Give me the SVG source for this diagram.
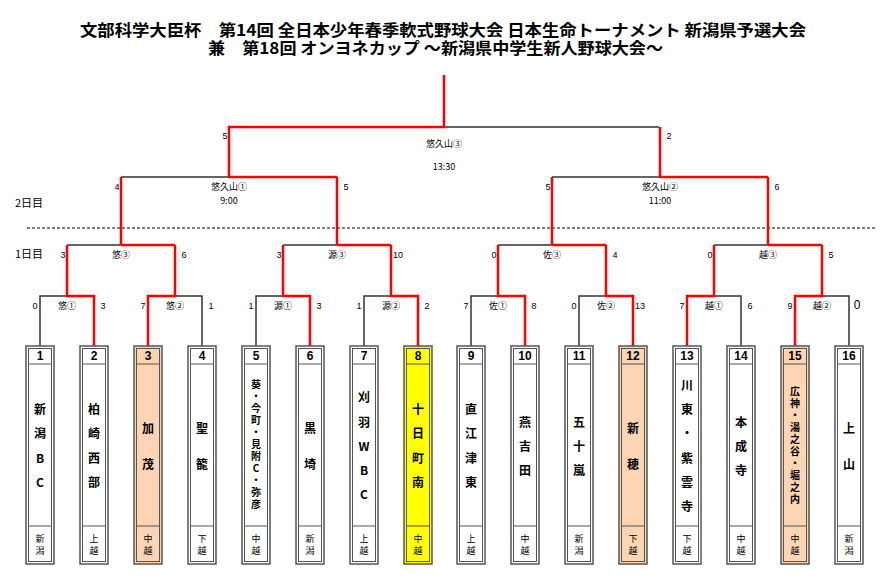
<svg xmlns="http://www.w3.org/2000/svg" width="886" height="588" viewBox="0 0 886 588">
<style>
text{font-family:"Liberation Sans","Noto Sans CJK JP",sans-serif;fill:#000}
.t{font-size:16px;font-weight:bold;font-family:"Noto Sans CJK JP",sans-serif}
.s{font-size:9px;text-anchor:middle}
.l{font-size:9px;text-anchor:middle;font-family:"Noto Sans CJK JP",sans-serif}
.d{font-size:11px;font-family:"Noto Sans CJK JP",sans-serif}
.n{font-size:12px;font-weight:bold;text-anchor:middle}
.c{font-size:12px;font-weight:bold;text-anchor:middle;dominant-baseline:central;font-family:"Noto Sans CJK JP",sans-serif}
.k{font-size:10px;font-weight:bold;text-anchor:middle;dominant-baseline:central;font-family:"Noto Sans CJK JP",sans-serif}
.r{font-size:9px;text-anchor:middle;dominant-baseline:central;font-family:"Noto Sans CJK JP",sans-serif}
.b{fill:none;stroke:#333;stroke-width:1.5}
.w{fill:none;stroke:#f00;stroke-width:2.5}
.o{stroke:#555;stroke-width:1.5}
.i{fill:none;stroke:#555;stroke-width:1}
</style>
<text class="t" x="80" y="36" textLength="726" lengthAdjust="spacingAndGlyphs">文部科学大臣杯　第14回 全日本少年春季軟式野球大会 日本生命トーナメント 新潟県予選大会</text>
<text class="t" x="208" y="54" textLength="455" lengthAdjust="spacingAndGlyphs">兼　第18回 オンヨネカップ ～新潟県中学生新人野球大会～</text>
<text class="d" x="15" y="207">2日目</text>
<text class="d" x="15" y="258">1日目</text>
<line x1="27" y1="228" x2="876" y2="228" stroke="#000" stroke-dasharray="3,2"/>
<g id="connectors">
<path class="b" d="M40,346V296H94 M202,346V296H148 M256,346V296H310 M364,346V296H418 M471,346V296H525 M579,346V296H633 M741,346V296H687 M849,346V296H795"/>
<path class="b" d="M67,245H121 M283,245H337 M498,245H552 M714,245H768 M121,177H229 M552,177H660 M444,127H659"/>
<path class="w" d="M94,346V296H67V245 M148,346V296H175V245 M310,346V296H283V245 M418,346V296H391V245 M525,346V296H498V245 M633,346V296H606V245 M687,346V296H714V245 M795,346V296H822V245"/>
<path class="w" d="M121,245H175 M121,245V177 M337,245H391 M337,245V177 M552,245H606 M552,245V177 M768,245H822 M768,245V177"/>
<path class="w" d="M337,177H229V127H444V75 M768,177H660V127"/>
</g>
<g id="labels">
<text class="s" x="35" y="309">0</text><text class="l" x="67" y="309">悠①</text><text class="s" x="103" y="309">3</text>
<text class="s" x="143" y="309">7</text><text class="l" x="175" y="309">悠②</text><text class="s" x="211" y="309">1</text>
<text class="s" x="251" y="309">1</text><text class="l" x="283" y="309">源①</text><text class="s" x="319" y="309">3</text>
<text class="s" x="359" y="309">1</text><text class="l" x="391" y="309">源②</text><text class="s" x="427" y="309">2</text>
<text class="s" x="466" y="309">7</text><text class="l" x="498" y="309">佐①</text><text class="s" x="534" y="309">8</text>
<text class="s" x="574" y="309">0</text><text class="l" x="606" y="309">佐②</text><text class="s" x="640" y="309">13</text>
<text class="s" x="682" y="309">7</text><text class="l" x="714" y="309">越①</text><text class="s" x="750" y="309">6</text>
<text class="s" x="790" y="309">9</text><text class="l" x="822" y="309">越②</text><text class="s" x="857" y="309" style="font-size:12px">0</text>
<text class="s" x="63" y="258">3</text><text class="l" x="121" y="258">悠③</text><text class="s" x="184" y="258">6</text>
<text class="s" x="279" y="258">3</text><text class="l" x="337" y="258">源③</text><text class="s" x="398" y="258">10</text>
<text class="s" x="494" y="258">0</text><text class="l" x="552" y="258">佐③</text><text class="s" x="615" y="258">4</text>
<text class="s" x="710" y="258">0</text><text class="l" x="768" y="258">越③</text><text class="s" x="831" y="258">5</text>
<text class="s" x="117" y="190">4</text><text class="l" x="229" y="190">悠久山①</text><text class="s" x="346" y="190">5</text>
<text class="l" x="229" y="204">9:00</text>
<text class="s" x="548" y="190">5</text><text class="l" x="660" y="190">悠久山②</text><text class="s" x="777" y="190">6</text>
<text class="l" x="660" y="204">11:00</text>
<text class="s" x="225" y="139">5</text><text class="l" x="444" y="147">悠久山③</text><text class="s" x="669" y="139">2</text>
<text class="l" x="444" y="170">13:30</text>
</g>
<defs>
<g id="frame">
<rect x="-14" y="346" width="28" height="218" class="o"/>
<rect x="-11.5" y="348.5" width="23" height="213" class="i"/>
<line x1="-11.5" y1="364" x2="11.5" y2="364" class="i"/>
<line x1="-11.5" y1="526" x2="11.5" y2="526" class="i"/>
</g>
</defs>
<g id="t1" transform="translate(40,0)"><use href="#frame" fill="#fff"/><text class="n" x="0" y="360">1</text><text class="c" x="0" y="408">新</text><text class="c" x="0" y="432">潟</text><text class="c" x="0" y="457">B</text><text class="c" x="0" y="481">C</text><text class="r" x="0" y="538">新</text><text class="r" x="0" y="550">潟</text></g>
<g id="t2" transform="translate(94,0)"><use href="#frame" fill="#fff"/><text class="n" x="0" y="360">2</text><text class="c" x="0" y="408">柏</text><text class="c" x="0" y="432">崎</text><text class="c" x="0" y="457">西</text><text class="c" x="0" y="481">部</text><text class="r" x="0" y="538">上</text><text class="r" x="0" y="550">越</text></g>
<g id="t3" transform="translate(148,0)"><use href="#frame" fill="#fcd5b4"/><text class="n" x="0" y="360">3</text><text class="c" x="0" y="427">加</text><text class="c" x="0" y="463">茂</text><text class="r" x="0" y="538">中</text><text class="r" x="0" y="550">越</text></g>
<g id="t4" transform="translate(202,0)"><use href="#frame" fill="#fff"/><text class="n" x="0" y="360">4</text><text class="c" x="0" y="427">聖</text><text class="c" x="0" y="463">籠</text><text class="r" x="0" y="538">下</text><text class="r" x="0" y="550">越</text></g>
<g id="t5" transform="translate(256,0)"><use href="#frame" fill="#fff"/><text class="n" x="0" y="360">5</text><text class="k" x="0" y="383">葵</text><text class="k" x="0" y="395">・</text><text class="k" x="0" y="407">今</text><text class="k" x="0" y="419">町</text><text class="k" x="0" y="431">・</text><text class="k" x="0" y="443">見</text><text class="k" x="0" y="455">附</text><text class="k" x="0" y="467">C</text><text class="k" x="0" y="479">・</text><text class="k" x="0" y="491">弥</text><text class="k" x="0" y="503">彦</text><text class="r" x="0" y="538">中</text><text class="r" x="0" y="550">越</text></g>
<g id="t6" transform="translate(310,0)"><use href="#frame" fill="#fff"/><text class="n" x="0" y="360">6</text><text class="c" x="0" y="427">黒</text><text class="c" x="0" y="463">埼</text><text class="r" x="0" y="538">新</text><text class="r" x="0" y="550">潟</text></g>
<g id="t7" transform="translate(364,0)"><use href="#frame" fill="#fff"/><text class="n" x="0" y="360">7</text><text class="c" x="0" y="396">刈</text><text class="c" x="0" y="421">羽</text><text class="c" x="0" y="445">W</text><text class="c" x="0" y="469">B</text><text class="c" x="0" y="493">C</text><text class="r" x="0" y="538">上</text><text class="r" x="0" y="550">越</text></g>
<g id="t8" transform="translate(418,0)"><use href="#frame" fill="#ffff00"/><text class="n" x="0" y="360">8</text><text class="c" x="0" y="408">十</text><text class="c" x="0" y="432">日</text><text class="c" x="0" y="457">町</text><text class="c" x="0" y="481">南</text><text class="r" x="0" y="538">中</text><text class="r" x="0" y="550">越</text></g>
<g id="t9" transform="translate(471,0)"><use href="#frame" fill="#fff"/><text class="n" x="0" y="360">9</text><text class="c" x="0" y="408">直</text><text class="c" x="0" y="432">江</text><text class="c" x="0" y="457">津</text><text class="c" x="0" y="481">東</text><text class="r" x="0" y="538">上</text><text class="r" x="0" y="550">越</text></g>
<g id="t10" transform="translate(525,0)"><use href="#frame" fill="#fff"/><text class="n" x="0" y="360">10</text><text class="c" x="0" y="421">燕</text><text class="c" x="0" y="445">吉</text><text class="c" x="0" y="469">田</text><text class="r" x="0" y="538">中</text><text class="r" x="0" y="550">越</text></g>
<g id="t11" transform="translate(579,0)"><use href="#frame" fill="#fff"/><text class="n" x="0" y="360">11</text><text class="c" x="0" y="421">五</text><text class="c" x="0" y="445">十</text><text class="c" x="0" y="469">嵐</text><text class="r" x="0" y="538">新</text><text class="r" x="0" y="550">潟</text></g>
<g id="t12" transform="translate(633,0)"><use href="#frame" fill="#fcd5b4"/><text class="n" x="0" y="360">12</text><text class="c" x="0" y="427">新</text><text class="c" x="0" y="463">穂</text><text class="r" x="0" y="538">下</text><text class="r" x="0" y="550">越</text></g>
<g id="t13" transform="translate(687,0)"><use href="#frame" fill="#fff"/><text class="n" x="0" y="360">13</text><text class="c" x="0" y="384">川</text><text class="c" x="0" y="408">東</text><text class="c" x="0" y="432">・</text><text class="c" x="0" y="457">紫</text><text class="c" x="0" y="481">雲</text><text class="c" x="0" y="505">寺</text><text class="r" x="0" y="538">下</text><text class="r" x="0" y="550">越</text></g>
<g id="t14" transform="translate(741,0)"><use href="#frame" fill="#fff"/><text class="n" x="0" y="360">14</text><text class="c" x="0" y="421">本</text><text class="c" x="0" y="445">成</text><text class="c" x="0" y="469">寺</text><text class="r" x="0" y="538">中</text><text class="r" x="0" y="550">越</text></g>
<g id="t15" transform="translate(795,0)"><use href="#frame" fill="#fcd5b4"/><text class="n" x="0" y="360">15</text><text class="k" x="0" y="390">広</text><text class="k" x="0" y="402">神</text><text class="k" x="0" y="414">・</text><text class="k" x="0" y="426">湯</text><text class="k" x="0" y="438">之</text><text class="k" x="0" y="450">谷</text><text class="k" x="0" y="462">・</text><text class="k" x="0" y="474">堀</text><text class="k" x="0" y="486">之</text><text class="k" x="0" y="498">内</text><text class="r" x="0" y="538">中</text><text class="r" x="0" y="550">越</text></g>
<g id="t16" transform="translate(849,0)"><use href="#frame" fill="#fff"/><text class="n" x="0" y="360">16</text><text class="c" x="0" y="427">上</text><text class="c" x="0" y="463">山</text><text class="r" x="0" y="538">新</text><text class="r" x="0" y="550">潟</text></g>
</svg>
